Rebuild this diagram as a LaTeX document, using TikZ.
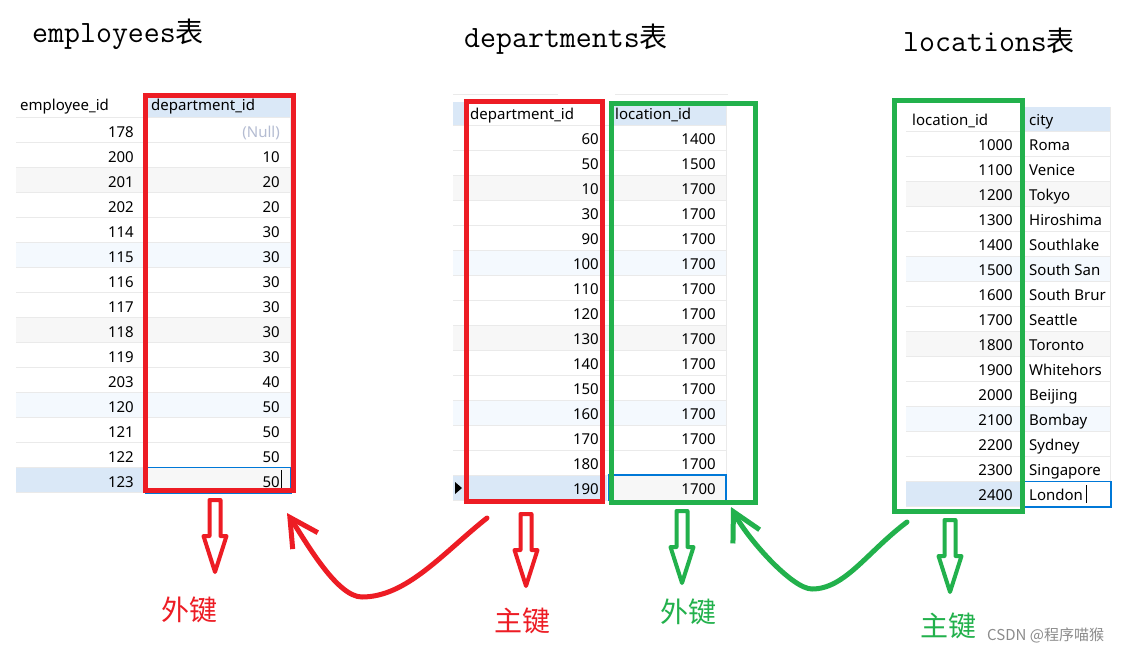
\documentclass[tikz,border=0pt]{standalone}
\usepackage{fontspec}
\setmainfont{Noto Sans}
\newfontfamily\cjk{Noto Sans CJK SC}
\usetikzlibrary{arrows.meta, fit, positioning}

\definecolor{hdrblue}{RGB}{218,232,247}
\definecolor{stripegray}{RGB}{247,247,247}
\definecolor{stripeblue}{RGB}{244,249,254}
\definecolor{gridline}{RGB}{234,234,234}
\definecolor{cellblue}{RGB}{0,120,215}
\definecolor{nullgray}{RGB}{180,188,210}
\definecolor{keyred}{RGB}{237,28,36}
\definecolor{keygreen}{RGB}{34,177,76}
\definecolor{wmgray}{RGB}{140,140,140}

\newcommand\tabfont{\fontsize{15}{18}\selectfont}
\newcommand\titlefont{\ttfamily\fontsize{31}{34}\selectfont}
\newcommand\titlecjk{\cjk\fontsize{28}{30}\selectfont}

\begin{document}
\begin{tikzpicture}[
    x=1pt, y=-1pt,
    num/.style={font=\tabfont, inner sep=0pt, anchor=base east},
    txt/.style={font=\tabfont, inner sep=0pt, anchor=base west},
    title/.style={font=\titlefont, inner sep=0pt, anchor=base west},
    grid/.style={draw=gridline, line width=1pt},
    keybox/.style={draw, line width=5pt, inner sep=0pt, outer sep=0pt},
    curcell/.style={draw=cellblue, line width=1.5pt},
    keylabel/.style={font=\cjk\fontsize{28}{30}\selectfont, inner sep=0pt},
    keylink/.style={line width=5pt, line cap=round,
      -{Straight Barb[length=28pt, width=30pt]}},
    downarrow/.pic={
      \draw[line width=4pt, line join=round]
        (-5.5,0) -- (5.5,0) -- (5.5,36) -- (11.5,36) -- (0,72)
        -- (-11.5,36) -- (-5.5,36) -- cycle;
    }
    ]
    \useasboundingbox (0,0) rectangle (1139,653);
    \fill[white] (0,0) rectangle (1139,653);

    % titles
    \node[title] (emptitle)  at (32,42)  {employees{\titlecjk 表}};
    \node[title] (depttitle) at (464,47) {departments{\titlecjk 表}};
    \node[title] (loctitle)  at (903,51) {locations{\titlecjk 表}};

    % employees table
    \fill[hdrblue] (146,95) rectangle (290,117.5);
    \foreach \i/\c in {2/stripegray,5/stripeblue,8/stripegray,11/stripeblue}
      \fill[\c] (16,117.5+25*\i) rectangle (290,142.5+25*\i);
    \fill[hdrblue] (16,467.5) rectangle (143,492.5);
    \fill[stripegray] (146,467.5) rectangle (290,492.5);
    \foreach \k in {0,...,15}
      \draw[grid] (16,117.5+25*\k) -- (290,117.5+25*\k);
    \draw[grid] (290,95) -- (290,492.5);
    \node[txt] (emph1) at (20,110)  {employee\_id};
    \node[txt] (emph2) at (151,110) {department\_id};
    \foreach \v [count=\i from 0] in {178,200,201,202,114,115,116,117,118,119,203,120,121,122,123}
      \node[num] (emp\i) at (134,137+25*\i) {\v};
    \node[num, text=nullgray] (empd0) at (280,137) {(Null)};
    \foreach \v [count=\i from 1] in {10,20,20,30,30,30,30,30,30,40,50,50,50,50}
      \node[num] (empd\i) at (280,137+25*\i) {\v};
    \draw[curcell] (146,467.5) rectangle (291,493);
    \draw[line width=1pt] (281.5,470) -- (281.5,489);

    % departments table
    \draw[grid] (453,94) -- (558,94);
    \draw[grid] (615,94) -- (728,94);
    \fill[hdrblue] (453,102) rectangle (466,125);
    \fill[hdrblue] (609,102) rectangle (726,125);
    \foreach \i/\c in {2/stripegray,5/stripeblue,8/stripegray,11/stripeblue}
      \fill[\c] (453,125+25*\i) rectangle (726,150+25*\i);
    \fill[hdrblue] (453,475) rectangle (607,500);
    \fill[stripegray] (609,475) rectangle (726,500);
    \foreach \k in {0,...,15}
      \draw[grid] (453,125+25*\k) -- (726,125+25*\k);
    \draw[grid] (726,102) -- (726,500);
    \fill (455,482) -- (462,488) -- (455,494) -- cycle;
    \node[txt] (depth1) at (470,119) {department\_id};
    \node[txt] (depth2) at (615,119) {location\_id};
    \foreach \v [count=\i from 0] in {60,50,10,30,90,100,110,120,130,140,150,160,170,180,190}
      \node[num] (dept\i) at (599,144+25*\i) {\v};
    \foreach \v [count=\i from 0] in {1400,1500,1700,1700,1700,1700,1700,1700,1700,1700,1700,1700,1700,1700,1700}
      \node[num] (deptl\i) at (716,144+25*\i) {\v};
    \draw[curcell] (609,475) rectangle (726,500.5);

    % locations table
    \fill[hdrblue] (1025,107) rectangle (1110,131.5);
    \foreach \i/\c in {2/stripegray,5/stripeblue,8/stripegray,11/stripeblue}
      \fill[\c] (906,131.5+25*\i) rectangle (1110,156.5+25*\i);
    \fill[hdrblue] (906,481.5) rectangle (1020,506.5);
    \foreach \k in {0,...,15}
      \draw[grid] (906,131.5+25*\k) -- (1110,131.5+25*\k);
    \draw[grid] (1110,107) -- (1110,506.5);
    \node[txt] (loch1) at (912,125)  {location\_id};
    \node[txt] (loch2) at (1029,125) {city};
    \foreach \v [count=\i from 0] in {1000,1100,1200,1300,1400,1500,1600,1700,1800,1900,2000,2100,2200,2300,2400}
      \node[num] (loc\i) at (1013,150.5+25*\i) {\v};
    \foreach \v [count=\i from 0] in {Roma,Venice,Tokyo,Hiroshima,Southlake,South San,South Brur,Seattle,Toronto,Whitehors,Beijing,Bombay,Sydney,Singapore,London}
      \node[txt] (city\i) at (1029,150.5+25*\i) {\v};
    \draw[curcell] (1024,481.5) rectangle (1111,507);
    \draw[line width=1pt] (1086,485) -- (1086,503);

    % key boxes
    \node[keybox, draw=keyred,   fit={(145,95) (293,490)}]   (empfk)  {};
    \node[keybox, draw=keyred,   fit={(466,101) (602,501)}]  (deptpk) {};
    \node[keybox, draw=keygreen, fit={(611,103) (755,502)}]  (deptfk) {};
    \node[keybox, draw=keygreen, fit={(894,100) (1022,511)}] (locpk)  {};

    % down arrows and labels
    \pic[keyred]   at (215,500) {downarrow};
    \pic[keyred]   at (526,514) {downarrow};
    \pic[keygreen] at (682,511) {downarrow};
    \pic[keygreen] at (950,520) {downarrow};
    \node[keylabel, text=keyred]   (empfklbl)  at (189,610) {外键};
    \node[keylabel, text=keyred]   (deptpklbl) at (522,621) {主键};
    \node[keylabel, text=keygreen] (deptfklbl) at (688,612) {外键};
    \node[keylabel, text=keygreen] (locpklbl)  at (948,626) {主键};

    % links between keys
    \coordinate (rtail) at ([shift={(21,17)}]deptpk.south west);
    \coordinate (rlow)  at (362,597);
    \coordinate (rhead) at ([shift={(-6,23)}]empfk.south east);
    \draw[keylink, keyred] (rtail) .. controls (444,552) and (407,597) .. (rlow)
      .. controls (337,597) and (306,542) .. (rhead);
    \coordinate (gtail) at ([shift={(13,11)}]locpk.south west);
    \coordinate (glow)  at (812,589);
    \coordinate (ghead) at ([shift={(-24,5)}]deptfk.south east);
    \draw[keylink, keygreen] (gtail) .. controls (867,552) and (845,589) .. (glow)
      .. controls (792,589) and (747,538) .. (ghead);

    \node[font=\cjk\fontsize{15}{18}\selectfont, text=wmgray, anchor=base west,
      inner sep=0pt] (wm) at (987,640) {CSDN @程序喵猴};
\end{tikzpicture}
\end{document}
